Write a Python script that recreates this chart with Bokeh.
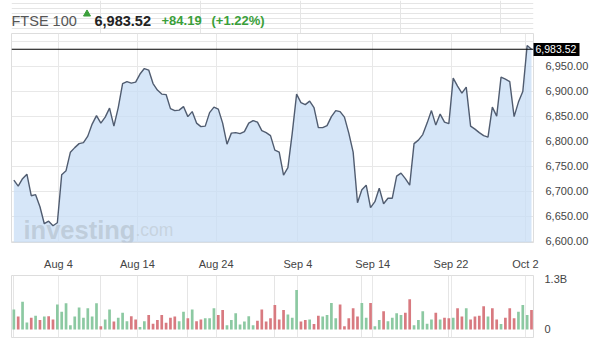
from bokeh.plotting import figure
from bokeh.models import (Range1d, FixedTicker, NumeralTickFormatter, CustomJSTickFormatter,
                          Span, Label, Grid, LinearAxis)
from bokeh.layouts import column
from bokeh.embed import file_html
from bokeh.resources import INLINE

# ---------------- data ----------------
instrument = "FTSE 100"
last_change = 84.19
last_change_pct = 1.22

close = [
    6722, 6710, 6725, 6734, 6691, 6693, 6669, 6635, 6640, 6631,
    6637, 6733, 6741, 6778, 6787, 6795, 6797, 6810, 6834, 6851,
    6836, 6848, 6866, 6830, 6867, 6915, 6919, 6916, 6918, 6934,
    6945, 6942, 6915, 6902, 6894, 6893, 6865, 6861, 6862, 6869,
    6849, 6859, 6836, 6829, 6830, 6857, 6868, 6864, 6836, 6794,
    6816, 6817, 6815, 6819, 6836, 6841, 6838, 6821, 6817, 6811,
    6782, 6778, 6732, 6747, 6816, 6894, 6877, 6873, 6880, 6867,
    6827, 6827, 6831, 6849, 6861, 6859, 6848, 6816, 6778, 6677,
    6703, 6712, 6667, 6679, 6706, 6675, 6686, 6686, 6730, 6736,
    6725, 6712, 6795, 6802, 6813, 6836, 6861, 6832, 6854, 6838,
    6835, 6926, 6910, 6896, 6908, 6830, 6824, 6817, 6811, 6808,
    6868, 6850, 6928, 6924, 6919, 6849, 6878, 6899, 6991, 6983.52,
]

volume_b = [
    0.48, 0.31, 0.67, 0.17, 0.28, 0.33, 0.23, 0.31, 0.32, 0.24,
    0.60, 0.43, 0.63, 0.10, 0.31, 0.53, 0.28, 0.51, 0.31, 0.63,
    0.08, 0.24, 0.48, 0.19, 0.28, 0.40, 0.20, 0.32, 0.24, 0.06,
    0.20, 0.35, 0.14, 0.23, 0.35, 0.16, 0.28, 0.31, 0.20, 0.43,
    0.27, 0.48, 0.20, 0.24, 0.27, 0.27, 0.51, 0.35, 0.47, 0.10,
    0.23, 0.39, 0.12, 0.19, 0.32, 0.10, 0.21, 0.48, 0.19, 0.27,
    0.59, 0.24, 0.47, 0.36, 0.28, 0.95,
    0.19, 0.23, 0.24, 0.13, 0.33, 0.31, 0.35, 0.64, 0.27, 0.60,
    0.08, 0.27, 0.51, 0.31, 0.64, 0.28, 0.64, 0.08, 0.23, 0.44,
    0.20, 0.28, 0.39, 0.35, 0.40, 0.73, 0.10, 0.23, 0.44, 0.14,
    0.24, 0.40, 0.24, 0.28, 0.27, 0.28, 0.51, 0.31, 0.51, 0.24,
    0.31, 0.33, 0.56, 0.31, 0.51, 0.24, 0.13, 0.28, 0.51, 0.27,
    0.43, 0.59, 0.35, 0.47,
]

volume_dir = list(
    "GRGGRGRGRRGGGGGGGGGGRGGRGGGRRGGRRRRRRRGGRGRRGGGRRGGGGGGGRRRRRRRGGG"
    "RRGRRGGGGRRRRRGGRGGRGGGGRRGGGGGRGRRGRRGRRRRGRRGRRRGGGR"
)

x_tick_pos = [10.26, 28.4, 46.5, 65.3, 82.5, 100.5, 117.6]
x_tick_labels = ["Aug 4", "Aug 14", "Aug 24", "Sep 4", "Sep 14", "Sep 22", "Oct 2"]
price_ticks = [6600, 6650, 6700, 6750, 6800, 6850, 6900, 6950]
price_grid = price_ticks + [7000]
vol_ticks = [0, 1.3]
vol_tick_labels = ["0", "1.3B"]

# ---------------- styling ----------------
FONT = "Liberation Sans"
GREEN = "#3a9f3a"
GRID = "#e8e8e8"
LINE = "#505c70"
BAR_UP = "#8cc9a2"
BAR_DN = "#d87a80"

idx = list(range(len(close)))
vol_idx = list(range(len(volume_b)))
vol_colors = [BAR_UP if d == "G" else BAR_DN for d in volume_dir]
last = close[-1]
last_txt = f"{last:,.2f}"

x_range = Range1d(-0.54, len(close) - 1 + 0.46)
xticker = FixedTicker(ticks=x_tick_pos)

# ---------------- header (frame is aligned with the panels below: 11..533 px) ----------------
h = figure(width=600, height=33, x_range=Range1d(11, 533), y_range=Range1d(0, 33),
           toolbar_location=None, output_backend="svg", x_axis_location=None,
           y_axis_location=None, min_border=0, outline_line_color=None)
hdr = dict(text_font=FONT, text_baseline="alphabetic", text_align="left")
HY = 13
h.add_layout(Label(x=11, y=HY, text=instrument, text_font_size="14.5px",
                   text_color="#555555", **hdr))
h.scatter([86.5], [19.5], marker="triangle", size=7, color=GREEN)
h.add_layout(Label(x=94, y=HY, text=last_txt, text_font_size="14.5px",
                   text_font_style="bold", text_color="#222222", **hdr))
h.add_layout(Label(x=161, y=HY, text=f"+{last_change:.2f}", text_font_size="13px",
                   text_font_style="bold", text_color=GREEN, **hdr))
h.add_layout(Label(x=211, y=HY, text=f"(+{last_change_pct:.2f}%)", text_font_size="13px",
                   text_font_style="bold", text_color=GREEN, **hdr))

# ---------------- price panel ----------------
p = figure(width=600, height=239, x_range=x_range, y_range=Range1d(6597.5, 7015),
           toolbar_location=None, output_backend="svg", y_axis_location="right",
           min_border_left=11, min_border_right=67, min_border_top=0, min_border_bottom=22,
           outline_line_color="#dddddd")
p.varea(x=idx, y1=p.y_range.start, y2=close, fill_color="#c6dcf5", fill_alpha=0.72)
p.line(idx, close, line_color=LINE, line_width=1.4)
p.add_layout(Span(location=last, dimension="width", line_color="black", line_width=1))

main_axis = p.yaxis[0]
main_axis.ticker = FixedTicker(ticks=price_ticks)
main_axis.formatter = NumeralTickFormatter(format="0,0.00")
p.xaxis.ticker = xticker
p.xaxis.formatter = CustomJSTickFormatter(args=dict(names=x_tick_labels),
                                          code="return names[index];")
for ax in (p.xaxis[0], main_axis):
    ax.axis_line_color = None
    ax.major_tick_line_color = None
    ax.minor_tick_line_color = None
    ax.major_label_text_font = FONT
    ax.major_label_text_font_size = "11px"
    ax.major_label_text_color = "#444444"
p.xaxis.major_label_standoff = 9

# last-price marker on the right: a single thick black tick with the white value on it
box_axis = LinearAxis(ticker=FixedTicker(ticks=[last]),
                      formatter=NumeralTickFormatter(format="0,0.00"),
                      axis_line_color=None, minor_tick_line_color=None,
                      major_tick_line_color="black", major_tick_line_width=13,
                      major_tick_in=0, major_tick_out=46,
                      major_label_standoff=-44, major_label_text_color="white",
                      major_label_text_font=FONT, major_label_text_font_size="10.5px")
p.add_layout(box_axis, "right")
p.right = [box_axis, main_axis]
main_axis.major_label_standoff = -40

p.xgrid.ticker = xticker
p.ygrid.ticker = FixedTicker(ticks=price_grid)
p.xgrid.grid_line_color = GRID
p.ygrid.grid_line_color = GRID

p.add_layout(Label(x=12, y=13, x_units="screen", y_units="screen", text="investing",
                   text_font=FONT, text_font_size="25.5px", text_font_style="bold",
                   text_baseline="alphabetic", text_color="#b9c6d4", text_alpha=0.8))
p.add_layout(Label(x=124, y=13, x_units="screen", y_units="screen", text=".com",
                   text_font=FONT, text_font_size="17.5px", text_baseline="alphabetic",
                   text_color="#c3ced9", text_alpha=0.8))

# ---------------- volume panel ----------------
v = figure(width=600, height=89, x_range=x_range, y_range=Range1d(-0.193, 1.3),
           toolbar_location=None, output_backend="svg", y_axis_location="right",
           x_axis_location=None, min_border_left=11, min_border_right=67,
           min_border_top=3, min_border_bottom=24, outline_line_color="#dddddd")
v.vbar(x=vol_idx, top=volume_b, bottom=0, width=0.62, fill_color=vol_colors,
       line_color=None)
v.add_layout(Grid(dimension=0, ticker=xticker, grid_line_color=GRID))
v.yaxis.ticker = FixedTicker(ticks=vol_ticks)
v.yaxis.formatter = CustomJSTickFormatter(args=dict(names=vol_tick_labels),
                                          code="return names[index];")
v.yaxis.axis_line_color = None
v.yaxis.major_tick_line_color = None
v.yaxis.minor_tick_line_color = None
v.yaxis.major_label_text_font = FONT
v.yaxis.major_label_text_font_size = "11px"
v.yaxis.major_label_text_color = "#444444"
v.yaxis.major_label_standoff = 5
v.ygrid.ticker = FixedTicker(ticks=[1.3])
v.ygrid.grid_line_color = GRID

layout = column(h, p, v, spacing=0)
open("out.html", "w").write(file_html(layout, INLINE))
